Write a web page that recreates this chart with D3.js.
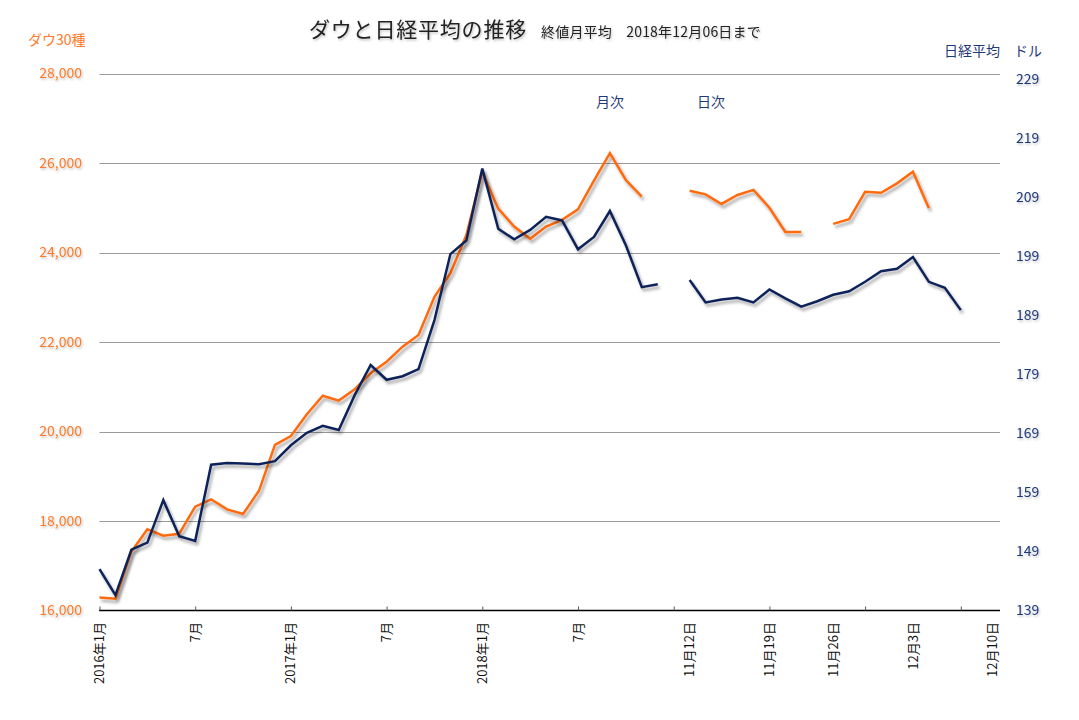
<!DOCTYPE html>
<html>
<head>
<meta charset="utf-8">
<script src="https://cdn.jsdelivr.net/npm/d3@7"></script>
<style>
  body { margin: 0; background: #fff; }
  svg { font-family: "Noto Sans CJK JP", "Noto Sans", sans-serif; }
</style>
</head>
<body>
<div id="chart"></div>
<script>
// monthly categories 2016-01 .. 2018-12, one blank slot, then trading days
const months = d3.range(36).map(i => `${2016 + Math.floor(i / 12)}-${String(i % 12 + 1).padStart(2, "0")}`);
const days = ["11/12", "11/13", "11/14", "11/15", "11/16", "11/19", "11/20", "11/21", "11/22",
              "11/26", "11/27", "11/28", "11/29", "11/30", "12/3", "12/4", "12/5", "12/6", "12/7", "12/10"];
const categories = [...months, "gap", ...days];

// Dow 30 (left axis), monthly averages 2016-01 .. 2018-11
const dowMonthly = [16290, 16265, 17315, 17815, 17670, 17715, 18320, 18485, 18260, 18155, 18675, 19700,
                    19900, 20385, 20800, 20690, 20945, 21300, 21560, 21895, 22155, 23010, 23535, 24390,
                    25800, 24980, 24580, 24305, 24580, 24730, 24965, 25605, 26220, 25620, 25250];
// Nikkei in dollars (right axis), monthly averages 2016-01 .. 2018-12
const nikkeiMonthly = [146.0, 141.6, 149.3, 150.5, 157.7, 151.6, 150.8, 163.7, 164.0, 163.9, 163.8, 164.3,
                       167.0, 169.1, 170.3, 169.6, 175.5, 180.6, 178.1, 178.7, 179.9, 188.2, 199.4, 201.7,
                       213.9, 203.7, 201.9, 203.5, 205.7, 205.1, 200.2, 202.3, 206.7, 200.9, 193.8, 194.3];
// daily closes, 11/12 .. 12/10 (null = no trading / no data)
const dowDaily = [25380, 25300, 25085, 25285, 25400, 25000, 24460, 24460, null,
                  24640, 24745, 25355, 25335, 25545, 25805, 24990, null, null, null, null];
const nikkeiDaily = [195.0, 191.2, 191.7, 192.0, 191.2, 193.4, 191.9, 190.5, 191.4,
                     192.5, 193.1, 194.7, 196.5, 196.9, 198.9, 194.7, 193.7, 189.9, null, null];

const leftTicks = [16000, 18000, 20000, 22000, 24000, 26000, 28000];
const rightTicks = [139, 149, 159, 169, 179, 189, 199, 209, 219, 229];
const tickCats = categories.filter((c, i) => i % 6 === 0);
const labelCats = ["2016-01", "2016-07", "2017-01", "2017-07", "2018-01", "2018-07",
                   "11/12", "11/19", "11/26", "12/3", "12/10"];
const labelText = ["2016年1月", "7月", "2017年1月", "7月", "2018年1月", "7月",
                   "11月12日", "11月19日", "11月26日", "12月3日", "12月10日"];

const orange = "#ff6a10", navy = "#0e2358";
const W = 1079, H = 720;

const svg = d3.select("#chart").append("svg").attr("width", W).attr("height", H);

const defs = svg.append("defs");
defs.append("filter").attr("id", "shadow").attr("x", "-10%").attr("y", "-10%")
    .attr("width", "120%").attr("height", "130%")
  .append("feDropShadow").attr("dx", 2).attr("dy", 3).attr("stdDeviation", 1.6)
    .attr("flood-color", "#000").attr("flood-opacity", 0.35);
defs.append("filter").attr("id", "tshadow")
  .append("feDropShadow").attr("dx", 1).attr("dy", 1.5).attr("stdDeviation", 1)
    .attr("flood-color", "#000").attr("flood-opacity", 0.25);

const x = d3.scalePoint().domain(categories).range([99.5, 99.5 + 56 * 15.95]);
const yL = d3.scaleLinear().domain([16000, 28000]).range([610.5, 73.5]);
const yR = d3.scaleLinear().domain([139, 230]).range([610.5, 73.5]);

// gridlines
svg.append("g").selectAll("line").data(leftTicks.slice(1)).join("line")
  .attr("x1", 99.5).attr("x2", 1000)
  .attr("y1", d => Math.round(yL(d)) + 0.5).attr("y2", d => Math.round(yL(d)) + 0.5)
  .attr("stroke", "#9a9a9a").attr("stroke-width", 1);

// left axis labels
svg.append("g").selectAll("text").data(leftTicks).join("text")
  .attr("x", 82).attr("y", d => yL(d)).attr("dy", "0.35em")
  .attr("text-anchor", "end").attr("font-size", 14).attr("fill", "#ff7a2a")
  .attr("filter", "url(#tshadow)")
  .text(d => d3.format(",")(d));

// right axis labels
svg.append("g").selectAll("text").data(rightTicks).join("text")
  .attr("x", 1016).attr("y", d => yR(d)).attr("dy", "0.35em")
  .attr("font-size", 14).attr("fill", "#1f3a78")
  .attr("filter", "url(#tshadow)")
  .text(d => d);

// x axis
const xAxis = svg.append("g").attr("transform", "translate(0,610.5)")
  .call(d3.axisBottom(x).tickValues(tickCats).tickSize(-4).tickSizeOuter(0).tickFormat(""));
xAxis.select(".domain").attr("d", "M99,0H1000").attr("stroke", "#000").attr("stroke-width", 1.5);
xAxis.selectAll(".tick line").attr("stroke", "#555");

svg.append("g").selectAll("text").data(labelCats).join("text")
  .attr("transform", d => `translate(${x(d)},622) rotate(-90)`)
  .attr("text-anchor", "end").attr("dy", "0.35em")
  .attr("font-size", 13).attr("fill", "#111")
  .text((d, i) => labelText[i]);

// series
const dowSeries = categories.map((c, i) => {
  let v = null;
  if (i < dowMonthly.length) v = dowMonthly[i];
  else if (i > 36) v = dowDaily[i - 37];
  return { c, v };
});
const nikkeiSeries = categories.map((c, i) => {
  let v = null;
  if (i < 36) v = nikkeiMonthly[i];
  else if (i > 36) v = nikkeiDaily[i - 37];
  return { c, v };
});

const lineL = d3.line().defined(d => d.v != null).x(d => x(d.c)).y(d => yL(d.v));
const lineR = d3.line().defined(d => d.v != null).x(d => x(d.c)).y(d => yR(d.v));

svg.append("path").datum(dowSeries).attr("d", lineL)
  .attr("fill", "none").attr("stroke", orange).attr("stroke-width", 2.5)
  .attr("stroke-linejoin", "miter").attr("filter", "url(#shadow)");
svg.append("path").datum(nikkeiSeries).attr("d", lineR)
  .attr("fill", "none").attr("stroke", navy).attr("stroke-width", 2.5)
  .attr("stroke-linejoin", "miter").attr("filter", "url(#shadow)");

// titles and notes
svg.append("text").attr("x", 309).attr("y", 37).attr("font-size", 21)
  .attr("letter-spacing", 0.8).attr("fill", "#222").attr("filter", "url(#tshadow)")
  .text("ダウと日経平均の推移");
svg.append("text").attr("x", 541).attr("y", 37).attr("font-size", 14)
  .attr("letter-spacing", 0.2).attr("fill", "#222").attr("filter", "url(#tshadow)")
  .text("終値月平均　2018年12月06日まで");
svg.append("text").attr("x", 28).attr("y", 45).attr("font-size", 14)
  .attr("fill", "#ff7a2a").text("ダウ30種");
svg.append("text").attr("x", 944).attr("y", 56).attr("font-size", 14)
  .attr("fill", "#1f3a78").text("日経平均　ドル");
svg.append("text").attr("x", 596).attr("y", 107).attr("font-size", 14)
  .attr("fill", "#1f3a78").text("月次");
svg.append("text").attr("x", 697).attr("y", 107).attr("font-size", 14)
  .attr("fill", "#1f3a78").text("日次");
</script>
</body>
</html>
